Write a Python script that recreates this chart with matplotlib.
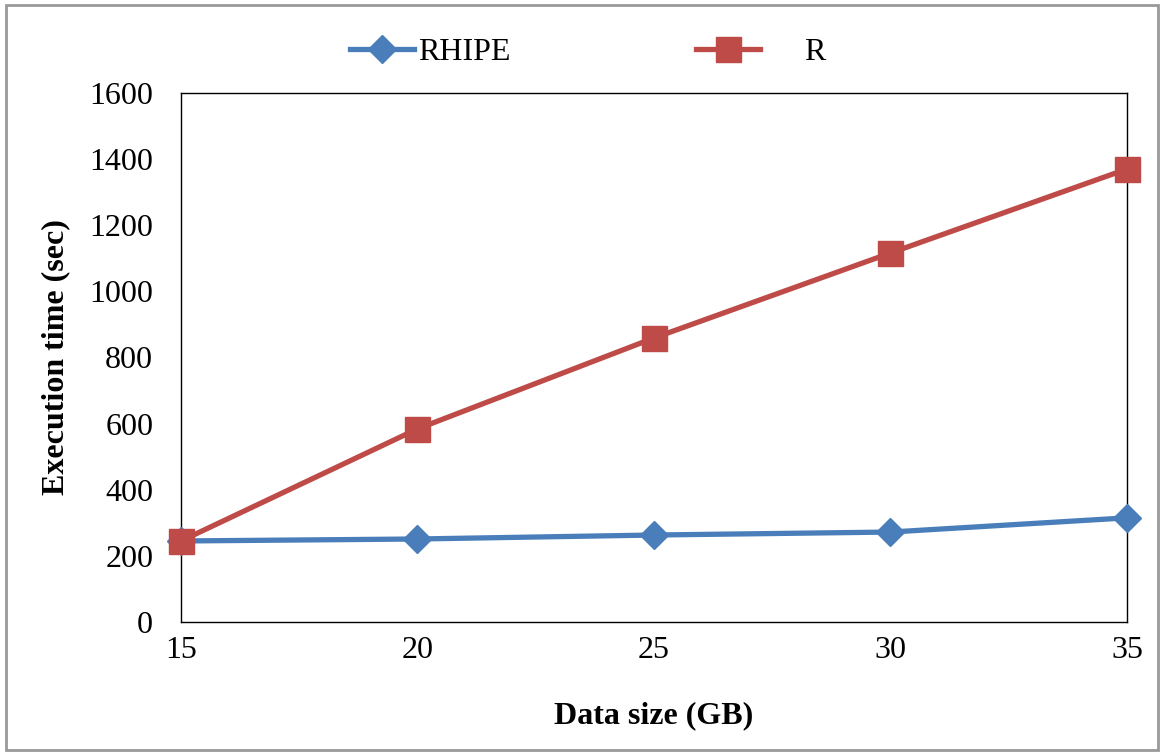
import matplotlib
matplotlib.use("Agg")
import matplotlib.pyplot as plt
from matplotlib.patches import Rectangle

data_size = [15, 20, 25, 30, 35]
rhipe = [245, 251, 263, 272, 315]
r_vals = [245, 584, 859, 1116, 1370]
y_ticks = [0, 200, 400, 600, 800, 1000, 1200, 1400, 1600]

plt.rcParams['font.family'] = ['Liberation Serif', 'DejaVu Serif']

fig = plt.figure(figsize=(11.6, 7.53), dpi=100)
ax = fig.add_axes([0.156, 0.174, 0.8155, 0.7025])

blue = '#4A7EBB'
red = '#BE4B48'
ax.plot(data_size, rhipe, color=blue, lw=3.8, marker='D', ms=14, label='RHIPE', clip_on=False, zorder=3)
ax.plot(data_size, r_vals, color=red, lw=3.8, marker='s', ms=18, label='     R', clip_on=False, zorder=4)

ax.set_xlim(15, 35)
ax.set_ylim(0, 1600)
ax.set_xticks(data_size)
ax.set_yticks(y_ticks)
ax.tick_params(axis='both', length=0, labelsize=23)
ax.tick_params(axis='x', pad=10)
ax.tick_params(axis='y', pad=20)
for s in ax.spines.values():
    s.set_linewidth(1.0)
    s.set_color('black')

ax.set_xlabel('Data size (GB)', fontsize=23, fontweight='bold', labelpad=26)
ax.set_ylabel('Execution time (sec)', fontsize=23, fontweight='bold', labelpad=14)

fig.legend(loc='center', bbox_to_anchor=(0.507, 0.93), ncol=2, frameon=False,
           fontsize=23, handlelength=2.0, handletextpad=0.15, columnspacing=5.8)

fig.patches.append(Rectangle((0.005, 0.004), 0.993, 0.99, transform=fig.transFigure,
                             fill=False, edgecolor='#999999', lw=2))

fig.savefig('out.png', dpi=100)
